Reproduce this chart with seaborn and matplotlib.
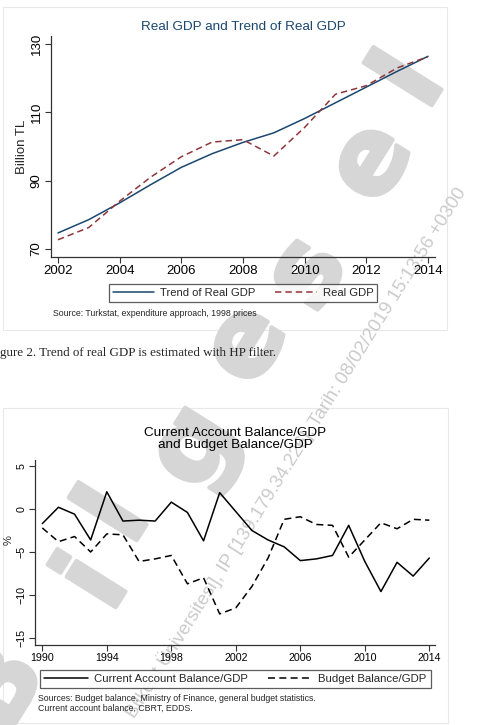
import matplotlib
matplotlib.use("Agg")
import matplotlib.pyplot as plt
import matplotlib.patheffects as pe
import seaborn as sns
import pandas as pd
from matplotlib.patches import Rectangle
from matplotlib.lines import Line2D

# ---------------- data ----------------
years_gdp = [2002, 2003, 2004, 2005, 2006, 2007, 2008, 2009, 2010, 2011, 2012, 2013, 2014]
trend_gdp = [74.7, 78.6, 83.5, 88.8, 93.9, 97.9, 101.2, 104.0, 108.2, 112.8, 117.4, 122.0, 126.4]
real_gdp = [72.7, 76.3, 84.0, 91.0, 97.0, 101.3, 102.0, 97.2, 105.6, 115.3, 117.8, 123.0, 126.3]

years_bal = list(range(1990, 2015))
current_account = [-1.7, 0.2, -0.6, -3.6, 2.0, -1.4, -1.3, -1.4, 0.8, -0.4, -3.7, 1.9, -0.3,
                   -2.5, -3.6, -4.4, -6.0, -5.8, -5.4, -1.9, -6.1, -9.6, -6.2, -7.8, -5.7]
budget_balance = [-2.2, -3.8, -3.2, -5.0, -2.9, -3.0, -6.1, -5.8, -5.4, -8.7, -8.0, -12.2, -11.5,
                  -9.0, -5.7, -1.2, -0.9, -1.8, -1.9, -5.6, -3.6, -1.6, -2.3, -1.2, -1.3]

gdp_xticks = [2002, 2004, 2006, 2008, 2010, 2012, 2014]
gdp_yticks = [70, 90, 110, 130]
bal_xticks = [1990, 1994, 1998, 2002, 2006, 2010, 2014]
bal_yticks = [-15, -10, -5, 0, 5]

gdp_labels = ["Trend of Real GDP", "Real GDP"]
bal_labels = ["Current Account Balance/GDP", "Budget Balance/GDP"]

df_gdp = pd.DataFrame({
    "year": years_gdp * 2,
    "value": trend_gdp + real_gdp,
    "series": [gdp_labels[0]] * len(years_gdp) + [gdp_labels[1]] * len(years_gdp),
})
df_bal = pd.DataFrame({
    "year": years_bal * 2,
    "value": current_account + budget_balance,
    "series": [bal_labels[0]] * len(years_bal) + [bal_labels[1]] * len(years_bal),
})

# ---------------- style ----------------
sns.set_theme(style="white")
plt.rcParams["font.family"] = ["Liberation Sans", "DejaVu Sans"]

W, H = 486, 725
fig = plt.figure(figsize=(W / 100, H / 100), dpi=100)
fig.patch.set_facecolor("white")


def fx(px):
    return px / W


def fy(py):
    return 1 - py / H


# panel frames
for (x0, y0, x1, y1) in [(3, 7, 447, 330), (3, 408, 448, 723)]:
    fig.patches.append(Rectangle((fx(x0), fy(y1)), (x1 - x0) / W, (y1 - y0) / H,
                                 transform=fig.transFigure, facecolor="white",
                                 edgecolor="#e8e8e8", lw=0.8, zorder=0.2))

# watermark (decoration)
fig.text(fx(130), fy(716), "Bilkent Üniversitesi], IP [139.179.34.226], Tarih: 08/02/2019 15:13:56 +0300",
         rotation=57.8, rotation_mode="anchor", ha="left", va="center",
         color="#cbcbcb", fontsize=13.4, zorder=0.6)
wm_letters = [("B", 2, 690), ("i", 96, 584), ("l", 117, 517), ("g", 195, 448),
              ("e", 247, 345), ("s", 308, 274), ("e", 372, 163), ("l", 412, 82)]
for ch, px, py in wm_letters:
    fig.text(fx(px), fy(py), ch, rotation=58, rotation_mode="anchor", ha="center", va="center",
             fontsize=76, fontweight="bold", family="DejaVu Sans", color="#d6d6d6", zorder=0.8,
             path_effects=[pe.withStroke(linewidth=3, foreground="#d6d6d6")])

axis_col = "#333333"


def style_axes(ax, xt, yt, labelsize):
    for s in ["top", "right"]:
        ax.spines[s].set_visible(False)
    for s in ["left", "bottom"]:
        ax.spines[s].set_color(axis_col)
        ax.spines[s].set_linewidth(0.9)
    ax.set_facecolor("none")
    ax.grid(False)
    ax.set_xticks(xt)
    ax.set_yticks(yt)
    ax.tick_params(direction="out", length=4, width=0.8, color=axis_col,
                   labelsize=labelsize, labelcolor="black", pad=2,
                   bottom=True, left=True)
    plt.setp(ax.get_yticklabels(), rotation=90, va="center")
    ax.set_xlabel("")


# ---------------- top chart ----------------
ax1 = fig.add_axes([fx(51), fy(257), (435 - 51) / W, (257 - 36) / H], zorder=2)
sns.lineplot(data=df_gdp, x="year", y="value", hue="series", style="series",
             palette={gdp_labels[0]: "#1a476f", gdp_labels[1]: "#90353b"},
             dashes={gdp_labels[0]: "", gdp_labels[1]: (4.2, 2.6)},
             linewidth=1.1, ax=ax1, legend=False)
sx = (428 - 58) / 12
sy = (249 - 44) / 60
ax1.set_xlim(2002 - 7 / sx, 2014 + 7 / sx)
ax1.set_ylim(70 - 8 / sy, 130 + 8 / sy)
style_axes(ax1, gdp_xticks, gdp_yticks, 9.5)
ax1.set_ylabel("Billion TL", fontsize=9.5, va="center")
ax1.yaxis.set_label_coords((22 - 51) / 384, (257 - 147) / 221)

fig.text(fx(243), fy(27), "Real GDP and Trend of Real GDP", ha="center", va="center",
         color="#1a476f", fontsize=9.7, zorder=3)

h1 = [Line2D([], [], color="#1a476f", lw=1.1),
      Line2D([], [], color="#90353b", lw=1.1, dashes=(4.2, 2.6))]
leg1 = fig.legend(h1, gdp_labels, loc="center", bbox_to_anchor=(fx(243), fy(293)), ncol=2,
                  fontsize=8.1, frameon=True, fancybox=False, edgecolor=axis_col,
                  handlelength=3.7, handletextpad=0.55, columnspacing=1.7,
                  borderpad=0.35, borderaxespad=0)
leg1.get_frame().set_linewidth(0.9)
leg1.set_zorder(3)

fig.text(fx(53), fy(313), "Source: Turkstat, expenditure approach, 1998 prices",
         ha="left", va="center", fontsize=6.3, zorder=3)

# caption
fig.text(0, fy(353), "gure 2. Trend of real GDP is estimated with HP filter.",
         ha="left", va="center", fontsize=9.4, family="Liberation Serif", zorder=3)

# ---------------- bottom chart ----------------
ax2 = fig.add_axes([fx(35), fy(645), (435 - 35) / W, (645 - 460) / H], zorder=2)
sns.lineplot(data=df_bal, x="year", y="value", hue="series", style="series",
             palette={bal_labels[0]: "black", bal_labels[1]: "black"},
             dashes={bal_labels[0]: "", bal_labels[1]: (4.6, 2.8)},
             linewidth=1.1, ax=ax2, legend=False)
sx2 = (429.3 - 42.3) / 24
sy2 = (638 - 466) / 20
ax2.set_xlim(1990 - 7.3 / sx2, 2014 + 5.7 / sx2)
ax2.set_ylim(-15 - 7 / sy2, 5 + 6 / sy2)
style_axes(ax2, bal_xticks, bal_yticks, 7.7)
ax2.set_ylabel("%", fontsize=8, va="center")
ax2.yaxis.set_label_coords((9 - 35) / 400, (645 - 540) / 185)

fig.text(fx(235), fy(439), "Current Account Balance/GDP\nand Budget Balance/GDP",
         ha="center", va="center", fontsize=9.7, linespacing=1.1, color="black", zorder=3)

h2 = [Line2D([], [], color="black", lw=1.1),
      Line2D([], [], color="black", lw=1.1, dashes=(4.6, 2.8))]
leg2 = fig.legend(h2, bal_labels, loc="center", bbox_to_anchor=(fx(235.5), fy(679)), ncol=2,
                  fontsize=8.2, frameon=True, fancybox=False, edgecolor=axis_col,
                  handlelength=3.8, handletextpad=0.6, columnspacing=1.76,
                  borderpad=0.35, borderaxespad=0)
leg2.get_frame().set_linewidth(0.9)
leg2.set_zorder(3)

fig.text(fx(38), fy(703.5),
         "Sources: Budget balance, Ministry of Finance, general budget statistics.\nCurrent account balance, CBRT, EDDS.",
         ha="left", va="center", fontsize=6.3, linespacing=1.1, zorder=3)

fig.savefig("out.png", dpi=100)
